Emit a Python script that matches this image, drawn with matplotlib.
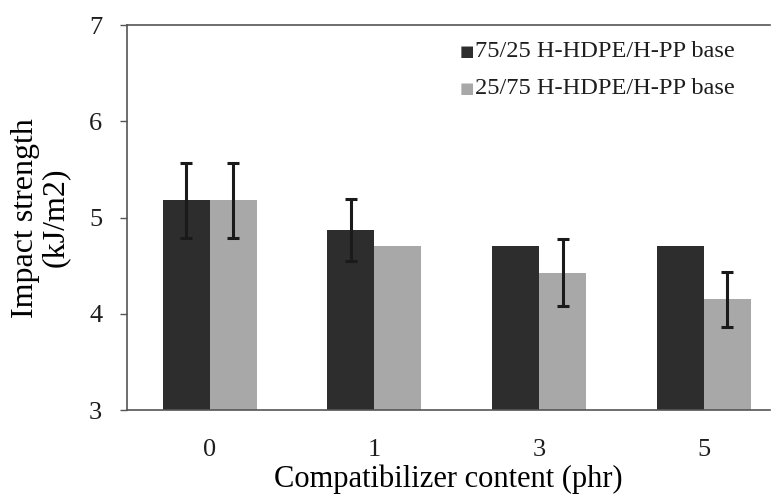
import numpy as np
import matplotlib.pyplot as plt

# ---------------- data ----------------
categories = ["0", "1", "3", "5"]
series_names = ["75/25 H-HDPE/H-PP base", "25/75 H-HDPE/H-PP base"]
dark_vals = [5.18, 4.87, 4.71, 4.71]
dark_err = [0.39, 0.32, 0.0, 0.0]
light_vals = [5.18, 4.71, 4.43, 4.15]
light_err = [0.39, 0.0, 0.35, 0.29]

plt.rcParams["font.family"] = ["Liberation Serif", "DejaVu Serif"]
plt.rcParams["text.color"] = "#1e1e1e"

fig = plt.figure(figsize=(7.8, 4.99), dpi=100)
ax = fig.add_axes([0.163, 0.178, 0.824, 0.7715])

x = np.arange(len(categories))
w = 0.285
ekw = dict(elinewidth=2.2, capsize=4.5, capthick=2.2, ecolor="#1a1a1a")
ax.bar(x - w / 2, dark_vals, w, color="#2d2d2d",
       yerr=[v if v > 0 else np.nan for v in dark_err], error_kw=ekw)
ax.bar(x + w / 2, light_vals, w, color="#a8a8a8",
       yerr=[v if v > 0 else np.nan for v in light_err], error_kw=ekw)

ax.set_ylim(3, 7)
ax.set_xlim(-0.5, 3.4)
ax.set_yticks([3, 4, 5, 6, 7])
ax.set_xticks(x)
ax.set_xticklabels(categories)
ax.tick_params(axis="x", length=0, labelsize=19, pad=21, labelcolor="#1e1e1e")
ax.tick_params(axis="y", length=5, width=1, labelsize=19, pad=13, color="#555555",
               labelcolor="#1e1e1e")
ax.spines["right"].set_visible(False)
for s in ["top", "bottom", "left"]:
    ax.spines[s].set_color("#555555")
    ax.spines[s].set_linewidth(1.2)

ax.set_xlabel("Compatibilizer content (phr)", fontsize=22, labelpad=2)
ax.set_ylabel("Impact strength\n(kJ/m2)", fontsize=23, labelpad=14, linespacing=1.0)

# legend: small squares next to the text
ax.text(0.518, 0.932, "\u25a0", transform=ax.transAxes, fontsize=11, color="#2d2d2d",
        va="center", family="DejaVu Sans")
ax.text(0.542, 0.932, series_names[0], transform=ax.transAxes, fontsize=17.6, va="center")
ax.text(0.518, 0.836, "\u25a0", transform=ax.transAxes, fontsize=11, color="#a8a8a8",
        va="center", family="DejaVu Sans")
ax.text(0.542, 0.836, series_names[1], transform=ax.transAxes, fontsize=17.6, va="center")

fig.savefig("out.png", dpi=100)
